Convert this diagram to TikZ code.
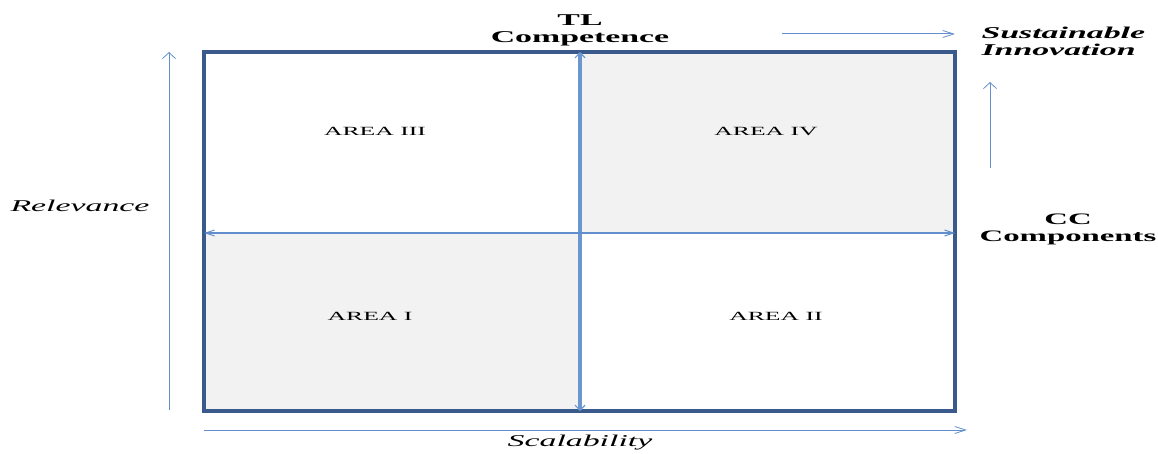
\documentclass[tikz,border=0pt]{standalone}
\usepackage{fontspec}
\setmainfont{Liberation Serif}[FakeStretch=2.05]
\usetikzlibrary{arrows.meta}
\definecolor{frameblue}{RGB}{58,90,140}
\definecolor{axisblue}{RGB}{98,142,205}
\definecolor{dividerblue}{RGB}{108,150,208}
\definecolor{quadgray}{RGB}{242,242,242}
\begin{document}
\begin{tikzpicture}[x=1pt,y=-1pt,
  quad/.style={fill=quadgray,draw=none},
  frame/.style={draw=frameblue,line width=3.2pt},
  hbarb/.style={-{Straight Barb[length=11pt,width=7pt,line width=0.8pt]}},
  vbarb/.style={-{Straight Barb[length=6pt,width=13pt,line width=0.8pt]}},
  axis/.style={draw=axisblue,line width=1pt},
  arealabel/.style={font=\fontsize{12.5}{14}\selectfont},
  title/.style={font=\fontsize{16.5}{17}\selectfont\bfseries,align=center},
  axislabel/.style={font=\fontsize{16.5}{17}\selectfont\itshape}]
\useasboundingbox (0,0) rectangle (1158,454);

% frame corners and divider end points
\coordinate (nw) at (204,52);
\coordinate (se) at (955,411);
\coordinate (topmid) at (580,52);
\coordinate (botmid) at (580,411);
\coordinate (leftmid) at (204,233);
\coordinate (rightmid) at (955,233);

% shaded quadrants
\fill[quad] (topmid) rectangle (rightmid);
\fill[quad] (leftmid) rectangle (botmid);

% outer frame
\draw[frame] (nw) rectangle (se);

% quadrant dividers
\draw[draw=dividerblue,line width=3.4pt,
  {Straight Barb[length=5pt,width=10pt,line width=1.2pt]}-{Straight Barb[length=5pt,width=10pt,line width=1.2pt]}]
  (topmid) -- (botmid);
\draw[draw=axisblue,line width=1.8pt,
  {Straight Barb[length=9pt,width=6pt,line width=1pt]}-{Straight Barb[length=9pt,width=6pt,line width=1pt]}]
  (leftmid) -- (rightmid);

% quadrant labels
\node[arealabel] (a3) at (375,131) {AREA III};
\node[arealabel] (a4) at (766,131) {AREA IV};
\node[arealabel] (a1) at (370,316) {AREA I};
\node[arealabel] (a2) at (776,316) {AREA II};

% outer arrows
\coordinate (relstart) at (169,410);
\coordinate (relend) at (169,52);
\coordinate (scastart) at (204,430);
\coordinate (scaend) at (967,430);
\coordinate (topstart) at (782,34);
\coordinate (topend) at (955,34);
\coordinate (rstart) at (990,168);
\coordinate (rend) at (990,82);
\draw[axis,vbarb] (relstart) -- (relend);
\draw[axis,hbarb] (scastart) -- (scaend);
\draw[axis,hbarb] (topstart) -- (topend);
\draw[axis,vbarb] (rstart) -- (rend);

% axis and corner labels
\node[title] (tl) at (580,30) {TL\\Competence};
\node[title,font=\fontsize{16}{17}\selectfont\bfseries] (cc) at (1068,229) {CC\\Components};
\node[title,font=\fontsize{16.5}{17}\selectfont\bfseries\itshape,align=left,anchor=west] (si) at (978,41) {Sustainable\\Innovation};
\node[axislabel] (rel) at (80,206) {Relevance};
\node[axislabel] (sca) at (580,443) {Scalability};
\end{tikzpicture}
\end{document}
